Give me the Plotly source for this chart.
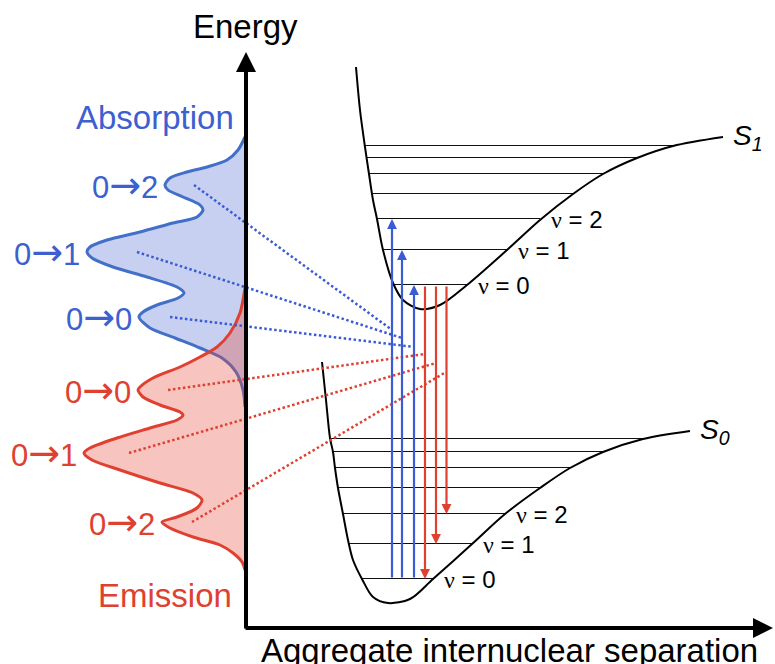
import plotly.graph_objects as go

# ---------------- data (separation / energy in diagram units) ----------------
# S1 excited-state potential curve
s1_sep = [110, 114, 119, 123, 127, 131, 137, 147, 157, 174, 194, 221, 261, 294, 327, 357, 391, 427, 477]
s1_energy = [561, 518, 481, 454, 428, 409, 378, 345, 328, 319, 323, 343, 378, 408, 434, 454, 470, 482, 491]
# S0 ground-state potential curve
s0_sep = [76, 80, 84, 87, 89, 92, 97, 102, 107, 116, 127, 142, 164, 187, 226, 259, 294, 324, 357, 397, 444]
s0_energy = [266, 228, 190, 176, 160, 140, 114, 88, 68, 49, 31, 25, 29, 49, 84, 114, 140, 160, 176, 189, 197]

# vibrational levels (v = 0..6): energy, left/right turning points
s1_levels = [343, 378, 409, 434, 454, 470, 482]
s1_level_left = [147, 137, 131, 127, 123, 121, 119]
s1_level_right = [221, 261, 294, 327, 357, 391, 427]
s0_levels = [49, 84, 114, 140, 160, 176, 189]
s0_level_left = [116, 102, 97, 92, 89, 87, 84]
s0_level_right = [187, 226, 259, 294, 324, 357, 397]

# transitions
abs_arrow_sep = [146, 156, 168]      # S0 v=0 -> S1 v=2,1,0
abs_arrow_to = [2, 1, 0]
em_arrow_sep = [179, 190, 200.5]     # S1 v=0 -> S0 v=0,1,2
em_arrow_to = [0, 1, 2]

# absorption spectrum (intensity, energy)
abs_intensity = [1, 8, 19, 39, 59, 76, 81, 78, 63, 46, 43, 49, 73, 106, 139, 156, 159, 154, 133, 99,
                 69, 62, 68, 89, 103, 107, 96, 71, 46, 24, 10, 3, 1]
abs_energy = [491, 478, 468, 461, 456, 450, 443, 438, 431, 423, 418, 411, 405, 396, 388, 381, 376, 370, 361, 351,
              341, 335, 330, 323, 316, 311, 300, 290, 280, 270, 256, 238, 221]
# emission spectrum (intensity, energy)
em_intensity = [1, 6, 16, 29, 46, 66, 93, 106, 108, 103, 86, 66, 63, 69, 96, 129, 156, 162, 154, 126,
                86, 53, 44, 49, 69, 84, 76, 53, 26, 13, 4, 1]
em_energy = [340, 315, 295, 281, 271, 261, 250, 241, 238, 231, 223, 216, 213, 208, 200, 190, 180, 175, 168, 158,
             145, 135, 128, 120, 111, 106, 100, 91, 83, 75, 66, 58]

# vibronic peaks: labels, peak intensity, peak energy, dotted-link start intensity, link end (sep, energy)
abs_labels = [("0", "0"), ("0", "1"), ("0", "2")]
abs_peak_int = [107, 159, 81]
abs_peak_energy = [311, 376, 443]
abs_link_int = [76, 109, 52]
abs_link_end_sep = [168, 156, 146]
abs_link_end_energy = [281, 290, 298]

em_labels = [("0", "0"), ("0", "1"), ("0", "2")]
em_peak_int = [108, 162, 84]
em_peak_energy = [238, 175, 106]
em_link_int = [78, 117, 54]
em_link_end_sep = [179, 190, 200]
em_link_end_energy = [274, 265, 256]

v_labels = ["0", "1", "2"]

# ---------------- styles ----------------
FONT = "Liberation Sans, Arial, sans-serif"
BLUE_TEXT = "#3d5fd0"
BLUE_LINE = "#4270c8"
BLUE_ARROW = "#3b5bd6"
RED = "#e0402f"
RED_TEXT = "#de4130"

fig = go.Figure()

# spectra
fig.add_trace(go.Scatter(
    x=[-v for v in abs_intensity], y=abs_energy, mode="lines",
    line=dict(color=BLUE_LINE, width=3, shape="spline", smoothing=0.8),
    fill="tozerox", fillcolor="rgba(68,100,210,0.30)", hoverinfo="skip"))
fig.add_trace(go.Scatter(
    x=[-v for v in em_intensity], y=em_energy, mode="lines",
    line=dict(color=RED, width=3, shape="spline", smoothing=0.8),
    fill="tozerox", fillcolor="rgba(230,70,55,0.32)", hoverinfo="skip"))

# vibrational levels
lx, ly = [], []
for lev, l, r in list(zip(s1_levels, s1_level_left, s1_level_right)) + list(zip(s0_levels, s0_level_left, s0_level_right)):
    lx += [l, r, None]
    ly += [lev + 0.5, lev + 0.5, None]
fig.add_trace(go.Scatter(x=lx, y=ly, mode="lines", line=dict(color="#111111", width=1.2), hoverinfo="skip"))

# potential curves
for xs, ys in [(s1_sep, s1_energy), (s0_sep, s0_energy)]:
    fig.add_trace(go.Scatter(x=xs, y=ys, mode="lines",
                             line=dict(color="black", width=2, shape="spline", smoothing=0.9),
                             hoverinfo="skip"))

# dotted links
for li, pe, xe, ye in zip(abs_link_int, abs_peak_energy, abs_link_end_sep, abs_link_end_energy):
    fig.add_trace(go.Scatter(x=[-li, xe], y=[pe, ye], mode="lines",
                             line=dict(color=BLUE_ARROW, width=2.5, dash="2.5px,2.5px"), hoverinfo="skip"))
for li, pe, xe, ye in zip(em_link_int, em_peak_energy, em_link_end_sep, em_link_end_energy):
    fig.add_trace(go.Scatter(x=[-li, xe], y=[pe, ye], mode="lines",
                             line=dict(color=RED, width=2.5, dash="2.5px,2.5px"), hoverinfo="skip"))

# transition arrows
for sx, to in zip(abs_arrow_sep, abs_arrow_to):
    fig.add_annotation(x=sx, y=s1_levels[to], ax=sx, ay=s0_levels[0], xref="x", yref="y",
                       axref="x", ayref="y", text="", showarrow=True, arrowhead=2,
                       arrowsize=0.9, arrowwidth=2.2, arrowcolor=BLUE_ARROW)
for sx, to in zip(em_arrow_sep, em_arrow_to):
    fig.add_annotation(x=sx, y=s0_levels[to], ax=sx, ay=s1_levels[0], xref="x", yref="y",
                       axref="x", ayref="y", text="", showarrow=True, arrowhead=2,
                       arrowsize=0.9, arrowwidth=2.2, arrowcolor=RED)

# diagram axes
fig.add_annotation(x=0, y=576, ax=0, ay=-2, xref="x", yref="y", axref="x", ayref="y", text="",
                   showarrow=True, arrowhead=2, arrowsize=1, arrowwidth=4, arrowcolor="black")
fig.add_annotation(x=527, y=0, ax=-2, ay=0, xref="x", yref="y", axref="x", ayref="y", text="",
                   showarrow=True, arrowhead=2, arrowsize=1, arrowwidth=4, arrowcolor="black")

def txt(x, y, s, color="black", size=33, xanchor="center", xshift=0, yshift=0):
    fig.add_annotation(x=x, y=y, text=s, showarrow=False, xref="x", yref="y",
                       xanchor=xanchor, yanchor="middle", xshift=xshift, yshift=yshift,
                       font=dict(family=FONT, size=size, color=color))

txt(-1, 602, "Energy")
txt(263, -22, "Aggregate internuclear separation")
txt(-91, 511, "Absorption", BLUE_TEXT)
txt(-81, 33, "Emission", RED_TEXT)

ARROW = '<span style="font-family:DejaVu Sans;font-size:38px">→</span>'
for (a, b), pi, pe in zip(abs_labels, abs_peak_int, abs_peak_energy):
    txt(-pi, pe, a + ARROW + b, BLUE_TEXT, size=31, xanchor="right", xshift=-5)
for (a, b), pi, pe in zip(em_labels, em_peak_int, em_peak_energy):
    txt(-pi, pe, a + ARROW + b, RED_TEXT, size=31, xanchor="right", xshift=-5)

NU = '<span style="font-family:Liberation Serif">ν</span> = '
for i, v in enumerate(v_labels):
    txt(s1_level_right[i], s1_levels[i], NU + v, size=24, xanchor="left", xshift=9)
    txt(s0_level_right[i], s0_levels[i], NU + v, size=24, xanchor="left", xshift=9)

txt(s1_sep[-1], s1_energy[-1], "<i>S</i><sub><i>1</i></sub>", size=28, xanchor="left", xshift=8)
txt(s0_sep[-1], s0_energy[-1], "<i>S</i><sub><i>0</i></sub>", size=28, xanchor="left", xshift=8)

fig.update_layout(
    width=775, height=664, autosize=False,
    margin=dict(l=0, r=0, t=0, b=0),
    paper_bgcolor="white", plot_bgcolor="white",
    showlegend=False,
    xaxis=dict(range=[-246, 529], visible=False, fixedrange=True),
    yaxis=dict(range=[-36, 628], visible=False, fixedrange=True),
)

fig.write_html("out.html")
